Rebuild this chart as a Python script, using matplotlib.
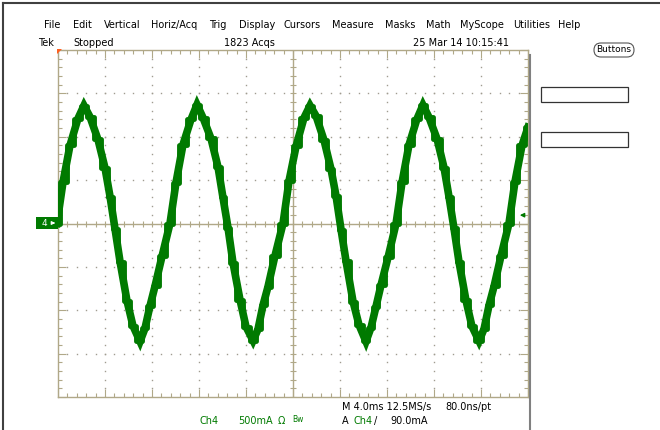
import matplotlib
matplotlib.use("Agg")
import matplotlib.pyplot as plt
import numpy as np
from matplotlib.patches import Rectangle, Polygon, FancyBboxPatch

# ---- waveform (time in ms, current in mA) ----
t_ms = [-0.09, 0.43, 1.02, 1.70, 2.21, 2.72, 3.40, 4.00, 4.43, 4.85, 5.28, 5.87, 6.38, 6.98, 7.40, 7.83, 8.26, 8.85,
        9.53, 10.04, 10.64, 11.32, 11.83, 12.34, 13.02, 13.62, 14.04, 14.47, 14.89, 15.49, 16.00, 16.60, 17.02, 17.45, 17.87, 18.47,
        19.15, 19.66, 20.26, 20.94, 21.45, 21.96, 22.64, 23.23, 23.66, 24.09, 24.51, 25.11, 25.62, 26.21, 26.64, 27.06, 27.49, 28.09,
        28.77, 29.28, 29.87, 30.55, 31.06, 31.57, 32.26, 32.85, 33.28, 33.70, 34.13, 34.72, 35.23, 35.83, 36.26, 36.68, 37.11, 37.70,
        38.38, 38.89, 39.49, 40.0]
i_ma = [0, 480, 900, 1210, 1360, 1230, 970, 640, 310, -60, -440, -890, -1180, -1360, -1210, -950, -720, -380,
        0, 470, 910, 1200, 1370, 1220, 980, 650, 300, -50, -450, -880, -1190, -1350, -1220, -940, -730, -370,
        0, 490, 890, 1220, 1360, 1240, 960, 630, 320, -70, -430, -900, -1170, -1360, -1200, -960, -710, -390,
        0, 475, 905, 1205, 1365, 1225, 975, 645, 305, -55, -445, -885, -1185, -1355, -1215, -945, -725, -375,
        0, 480, 900, 1110]

x_major = np.arange(0, 40.1, 4.0)      # 4.0 ms/div
x_minor = np.arange(0, 40.1, 0.8)
y_major = np.arange(-2000, 2001, 500)  # 500 mA/div
y_minor = np.arange(-2000, 2001, 100)
trig_level = 90.0

menu = ["File", "Edit", "Vertical", "Horiz/Acq", "Trig", "Display", "Cursors",
        "Measure", "Masks", "Math", "MyScope", "Utilities", "Help"]
menu_x = [44, 73, 104, 151, 209, 239, 283, 332, 385, 426, 460, 513, 558]

grat = "#b0a888"
trace = "#007a00"
W, H = 660, 430

fig = plt.figure(figsize=(W / 100, H / 100), dpi=100)
fig.patch.set_facecolor("white")

# graticule
ax = fig.add_axes([58 / W, (H - 397) / H, 470 / W, 347 / H])
ax.set_xlim(0, 40)
ax.set_ylim(-2000, 2000)
ax.set_xticks(x_major)
ax.set_xticks(x_minor, minor=True)
ax.set_yticks(y_major)
ax.set_yticks(y_minor, minor=True)
ax.tick_params(which="both", direction="in", top=True, right=True,
               labelbottom=False, labelleft=False, color=grat, width=0.8)
ax.tick_params(which="major", length=6)
ax.tick_params(which="minor", length=3)
for s in ax.spines.values():
    s.set_color(grat)
    s.set_linewidth(1)

# dotted grid
for xv in x_major[1:-1]:
    if xv != 20:
        ax.plot([xv] * len(y_minor), y_minor, ls="none", marker="s", ms=1.0,
                mew=0, color="#a09c90", zorder=1)
for yv in y_major[1:-1]:
    if yv != 0:
        ax.plot(x_minor, [yv] * len(x_minor), ls="none", marker="s", ms=1.0,
                mew=0, color="#a09c90", zorder=1)

# centre cross with ticks
ax.axhline(0, color=grat, lw=1, zorder=1)
ax.axvline(20, color=grat, lw=1, zorder=1)
ax.plot(x_minor, np.zeros(len(x_minor)), ls="none", marker="|", ms=5, mew=0.8, color=grat, zorder=1)
ax.plot(np.full(len(y_minor), 20.0), y_minor, ls="none", marker="_", ms=5, mew=0.8, color=grat, zorder=1)

# persistence band: a straight trace plus a stepped copy gives the jagged look
ax.plot(t_ms, i_ma, color=trace, lw=5.5, solid_joinstyle="miter", zorder=3)
ax.plot(t_ms, i_ma, color=trace, lw=3.5, drawstyle="steps-mid", zorder=3)

# overlay in pixel coordinates for the screen furniture
ov = fig.add_axes([0, 0, 1, 1])
ov.set_xlim(0, W)
ov.set_ylim(H, 0)
ov.axis("off")

ov.plot([3, W], [3, 3], color="#404040", lw=1.5)
ov.plot([3, 3], [3, H], color="#404040", lw=1.5)
ov.plot([530, 530], [55, H], color="#808080", lw=1.5)

fs = 7
for name, xp in zip(menu, menu_x):
    ov.text(xp, 25, name, fontsize=fs, va="center", ha="left")

ov.text(38, 43, "Tek", fontsize=fs, va="center")
ov.text(73, 43, "Stopped", fontsize=fs, va="center")
ov.text(224, 43, "1823 Acqs", fontsize=fs, va="center")
ov.text(413, 43, "25 Mar 14 10:15:41", fontsize=fs, va="center")

ov.add_patch(FancyBboxPatch((594, 43), 40, 14, boxstyle="round,pad=0,rounding_size=7",
                            fc="white", ec="#555555", lw=0.8))
ov.text(614, 50, "Buttons", fontsize=6.5, va="center", ha="center")
ov.add_patch(Rectangle((541, 87), 87, 15, fc="white", ec="#333333", lw=0.9))
ov.add_patch(Rectangle((541, 132), 87, 15, fc="white", ec="#333333", lw=0.9))

# trigger position marker and channel marker
ov.add_patch(Polygon([[57, 49], [62, 49], [57, 54]], closed=True, fc="#ff6020", ec="none"))
ov.add_patch(Rectangle((36, 217), 22, 12, fc=trace, ec="none"))
ov.text(44, 223, "4", color="white", fontsize=6.5, va="center", ha="center")
ov.annotate("", xy=(58, 223), xytext=(50, 223),
            arrowprops=dict(arrowstyle="-|>", color="white", lw=0.8, mutation_scale=5))
ty = 223 - trig_level / 500 * 43.4
ov.annotate("", xy=(517, ty), xytext=(527, ty),
            arrowprops=dict(arrowstyle="-|>", color=trace, lw=1, mutation_scale=6))

# status lines
ov.text(342, 407, "M 4.0ms 12.5MS/s", fontsize=fs, va="center")
ov.text(445, 407, "80.0ns/pt", fontsize=fs, va="center")
ov.text(200, 421, "Ch4", fontsize=fs, va="center", color=trace)
ov.text(238, 421, "500mA", fontsize=fs, va="center", color=trace)
ov.text(278, 421, "\u03a9", fontsize=fs, va="center", color=trace)
ov.text(292, 419, "Bw", fontsize=5.5, va="center", color=trace)
ov.text(342, 421, "A", fontsize=fs, va="center")
ov.text(354, 421, "Ch4", fontsize=fs, va="center", color=trace)
ov.text(374, 421, "/", fontsize=fs, va="center")
ov.text(390, 421, "90.0mA", fontsize=fs, va="center")

fig.savefig("out.png", dpi=100)
